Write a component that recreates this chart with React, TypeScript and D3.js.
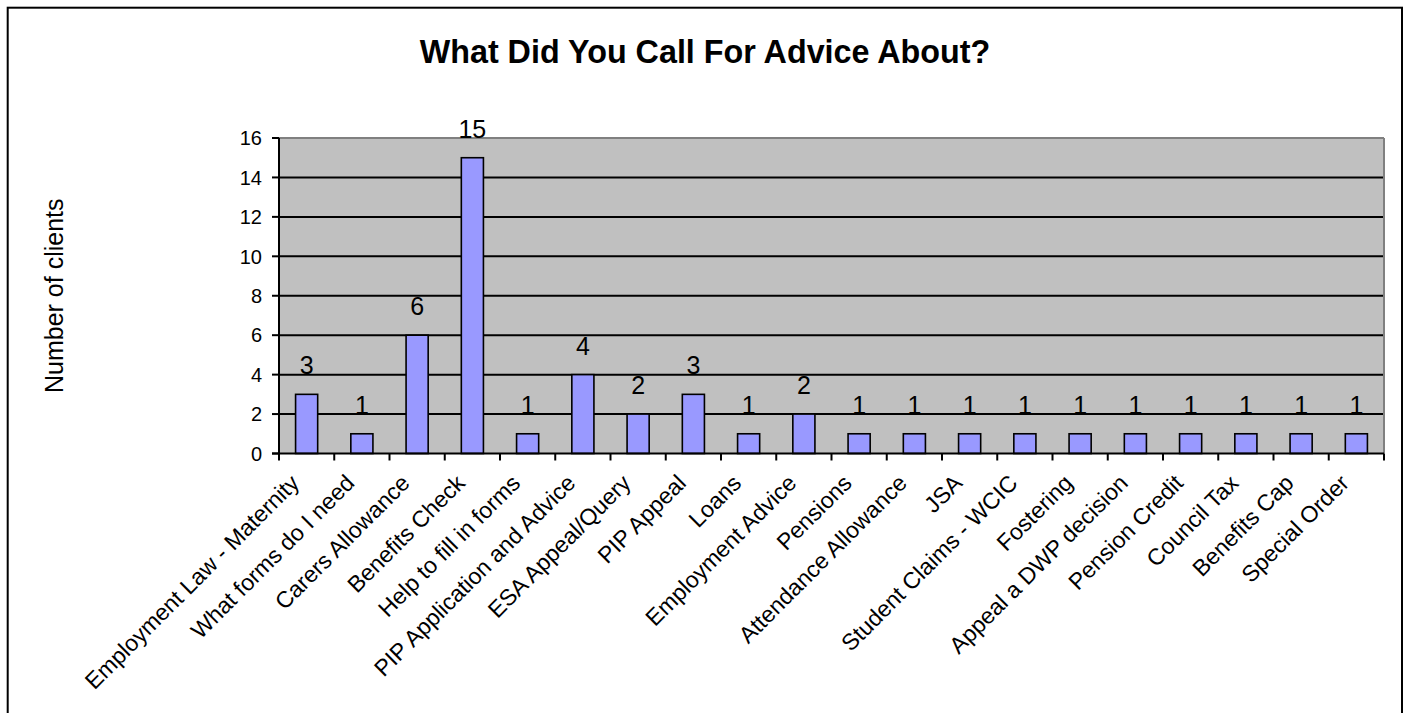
import React from "react";
import * as d3 from "d3";

const categories = [
  "Employment Law - Maternity",
  "What forms do I need",
  "Carers Allowance",
  "Benefits Check",
  "Help to fill in forms",
  "PIP Application and Advice",
  "ESA Appeal/Query",
  "PIP Appeal",
  "Loans",
  "Employment Advice",
  "Pensions",
  "Attendance Allowance",
  "JSA",
  "Student Claims - WCIC",
  "Fostering",
  "Appeal a DWP decision",
  "Pension Credit",
  "Council Tax",
  "Benefits Cap",
  "Special Order",
];
const values = [3, 1, 6, 15, 1, 4, 2, 3, 1, 2, 1, 1, 1, 1, 1, 1, 1, 1, 1, 1];
const yTicks = [0, 2, 4, 6, 8, 10, 12, 14, 16];

const W = 1410;
const H = 713;
const plotL = 279;
const plotR = 1384;
const plotT = 138;
const plotB = 453.5;
const font = "'Liberation Sans', Arial, sans-serif";

export default function App() {
  const x = d3.scaleBand<string>().domain(categories).range([plotL, plotR]).paddingInner(0).paddingOuter(0);
  const y = d3.scaleLinear().domain([0, 16]).range([plotB, plotT]);
  const bw = x.bandwidth() / 2.5;

  return (
    <svg width={W} height={H} style={{ position: "absolute", left: 0, top: 0 }} fontFamily={font}>
      <rect x={0} y={0} width={W} height={H} fill="#fff" />
      <rect x={7.7} y={7.7} width={1394.3} height={720} fill="#fff" stroke="#000" strokeWidth={2} />
      <text x={705} y={63} textAnchor="middle" fontSize={32.3} fontWeight="bold">
        What Did You Call For Advice About?
      </text>
      <text
        transform={`translate(63, ${(plotT + plotB) / 2}) rotate(-90)`}
        textAnchor="middle"
        fontSize={25}
      >
        Number of clients
      </text>
      <rect x={plotL} y={plotT} width={plotR - plotL} height={plotB - plotT} fill="#C0C0C0" />
      {yTicks
        .filter((t) => t > 0 && t < 16)
        .map((t) => (
          <line key={"g" + t} x1={plotL} x2={plotR} y1={y(t)} y2={y(t)} stroke="#000" strokeWidth={2} />
        ))}
      <line x1={plotL} x2={plotR} y1={plotT} y2={plotT} stroke="#808080" strokeWidth={2} />
      <line x1={plotR} x2={plotR} y1={plotT} y2={plotB} stroke="#808080" strokeWidth={2} />
      {categories.map((c, i) => (
        <rect
          key={"b" + c}
          x={(x(c) as number) + x.bandwidth() / 2 - bw / 2}
          y={y(values[i])}
          width={bw}
          height={plotB - y(values[i])}
          fill="#9999FF"
          stroke="#000"
          strokeWidth={1.6}
        />
      ))}
      <line x1={plotL} x2={plotL} y1={plotT} y2={plotB} stroke="#000" strokeWidth={2} />
      <line x1={plotL - 7} x2={plotR} y1={plotB} y2={plotB} stroke="#000" strokeWidth={2} />
      {yTicks.map((t) => (
        <g key={"t" + t}>
          <line x1={plotL - 7} x2={plotL} y1={y(t)} y2={y(t)} stroke="#000" strokeWidth={2} />
          <text x={262} y={y(t)} dy="0.36em" textAnchor="end" fontSize={20}>
            {t}
          </text>
        </g>
      ))}
      {categories.map((c) => (
        <line
          key={"xt" + c}
          x1={x(c) as number}
          x2={x(c) as number}
          y1={plotB}
          y2={plotB + 7}
          stroke="#000"
          strokeWidth={2}
        />
      ))}
      <line x1={plotR} x2={plotR} y1={plotB} y2={plotB + 7} stroke="#000" strokeWidth={2} />
      {categories.map((c, i) => (
        <text
          key={"v" + c}
          x={(x(c) as number) + x.bandwidth() / 2}
          y={y(values[i]) - 20}
          textAnchor="middle"
          fontSize={25}
        >
          {values[i]}
        </text>
      ))}
      {categories.map((c) => {
        const cx = (x(c) as number) + x.bandwidth() / 2;
        return (
          <text
            key={"l" + c}
            transform={`translate(${cx - 6}, ${plotB + 31}) rotate(-45)`}
            textAnchor="end"
            fontSize={23}
          >
            {c}
          </text>
        );
      })}
    </svg>
  );
}
